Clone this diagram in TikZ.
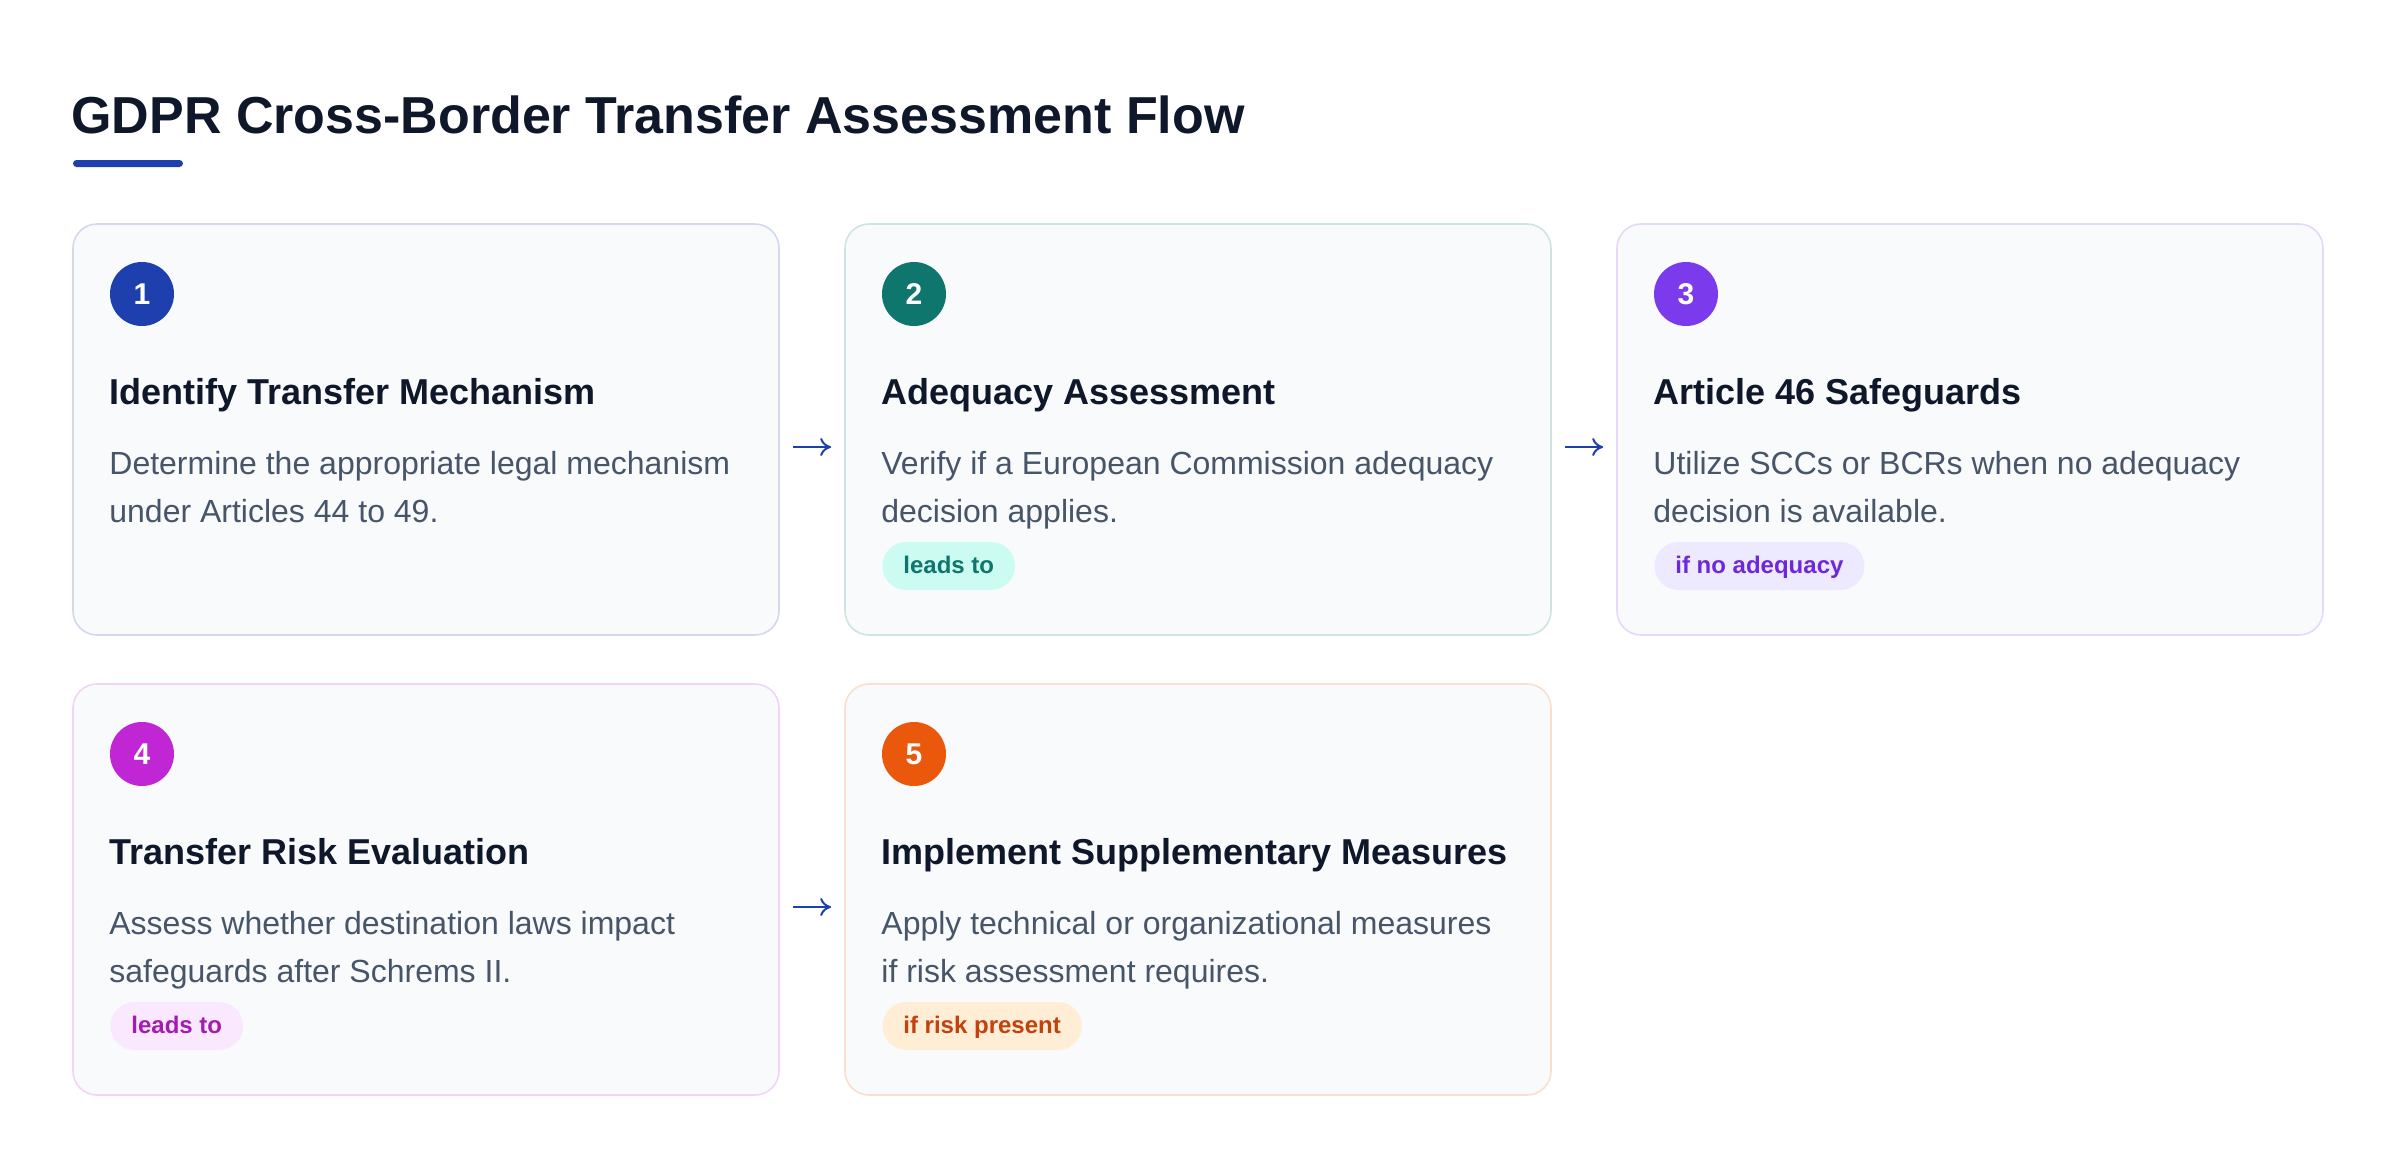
\documentclass[tikz,border=0pt]{standalone}
\usepackage{fontspec}
\setmainfont{Liberation Sans}
\usetikzlibrary{arrows.meta}
\definecolor{ink}{HTML}{0F172A}
\definecolor{bodytx}{HTML}{475569}
\definecolor{cardbg}{HTML}{F8FAFC}
\definecolor{blueA}{HTML}{1E40AF}
\definecolor{tealA}{HTML}{0F766E}
\definecolor{violetA}{HTML}{7C3AED}
\definecolor{fuchA}{HTML}{C026D3}
\definecolor{orangeA}{HTML}{EA580C}
\definecolor{tealBg}{HTML}{CCFBF1}
\definecolor{violetBg}{HTML}{EDE9FE}
\definecolor{violetTx}{HTML}{6D28D9}
\definecolor{fuchBg}{HTML}{FAE8FF}
\definecolor{fuchTx}{HTML}{A21CAF}
\definecolor{orangeBg}{HTML}{FFEDD5}
\definecolor{orangeTx}{HTML}{C2410C}
\tikzset{
  card/.style={rectangle, rounded corners=12pt, minimum width=353pt, minimum height=205.5pt, inner sep=0pt, fill=cardbg, line width=0.8pt},
  numdot/.style={circle, minimum size=32pt, inner sep=0pt, text=white, font=\fontsize{15pt}{18pt}\selectfont\bfseries},
  cardtitle/.style={anchor=base west, inner sep=0pt, text=ink, font=\fontsize{18pt}{22pt}\selectfont\bfseries},
  desc/.style={anchor=base west, inner sep=0pt, text=bodytx, font=\fontsize{16pt}{20pt}\selectfont},
  badge/.style={anchor=west, rectangle, rounded corners=12pt, minimum height=24pt, inner xsep=10.5pt, inner ysep=0pt, text height=9pt, text depth=1.7pt, font=\fontsize{12pt}{14pt}\selectfont\bfseries},
  flow/.style={draw=blueA, line width=1pt, shorten <=6.5pt, shorten >=6.5pt, -{To[length=5.5pt,width=9pt]}},
}
\newcommand\gdprcard[8]{%
  \node[card, draw=#4!20!white] (#1) at (#2+353,#3+205.5) {};
  \node[numdot, fill=#4] (#1n) at (#2+69,#3+70) {#5};
  \node[cardtitle] (#1t) at (#2+36,#3+180) {#6};
  \node[desc] (#1a) at (#2+36,#3+250) {#7};
  \node[desc] (#1b) at (#2+36,#3+298) {#8};
}
\begin{document}
\begin{tikzpicture}[x=0.5pt,y=-0.5pt]
\fill[white] (0,0) rectangle (2400,1168);
\useasboundingbox (0,0) rectangle (2400,1168);
\node[anchor=base west, inner sep=0pt, text=ink, font=\fontsize{26pt}{30pt}\selectfont\bfseries] (title) at (71,133.5) {GDPR Cross-Border Transfer Assessment Flow};
\fill[blueA, rounded corners=1.75pt] (73,160) rectangle (183,167);

\gdprcard{c1}{73}{224}{blueA}{1}{Identify Transfer Mechanism}{Determine the appropriate legal mechanism}{under Articles 44 to 49.}
\gdprcard{c2}{845}{224}{tealA}{2}{Adequacy Assessment}{Verify if a European Commission adequacy}{decision applies.}
\gdprcard{c3}{1617}{224}{violetA}{3}{Article 46 Safeguards}{Utilize SCCs or BCRs when no adequacy}{decision is available.}
\gdprcard{c4}{73}{684}{fuchA}{4}{Transfer Risk Evaluation}{Assess whether destination laws impact}{safeguards after Schrems II.}
\gdprcard{c5}{845}{684}{orangeA}{5}{Implement Supplementary Measures}{Apply technical or organizational measures}{if risk assessment requires.}

\node[badge, fill=tealBg, text=tealA] (b2) at (882,566) {leads to};
\node[badge, fill=violetBg, text=violetTx] (b3) at (1654,566) {if no adequacy};
\node[badge, fill=fuchBg, text=fuchTx] (b4) at (110,1026) {leads to};
\node[badge, fill=orangeBg, text=orangeTx] (b5) at (882,1026) {if risk present};

\draw[flow] ([yshift=-8.75pt]c1.east) -- ([yshift=-8.75pt]c2.west);
\draw[flow] ([yshift=-8.75pt]c2.east) -- ([yshift=-8.75pt]c3.west);
\draw[flow] ([yshift=-8.75pt]c4.east) -- ([yshift=-8.75pt]c5.west);
\end{tikzpicture}
\end{document}
